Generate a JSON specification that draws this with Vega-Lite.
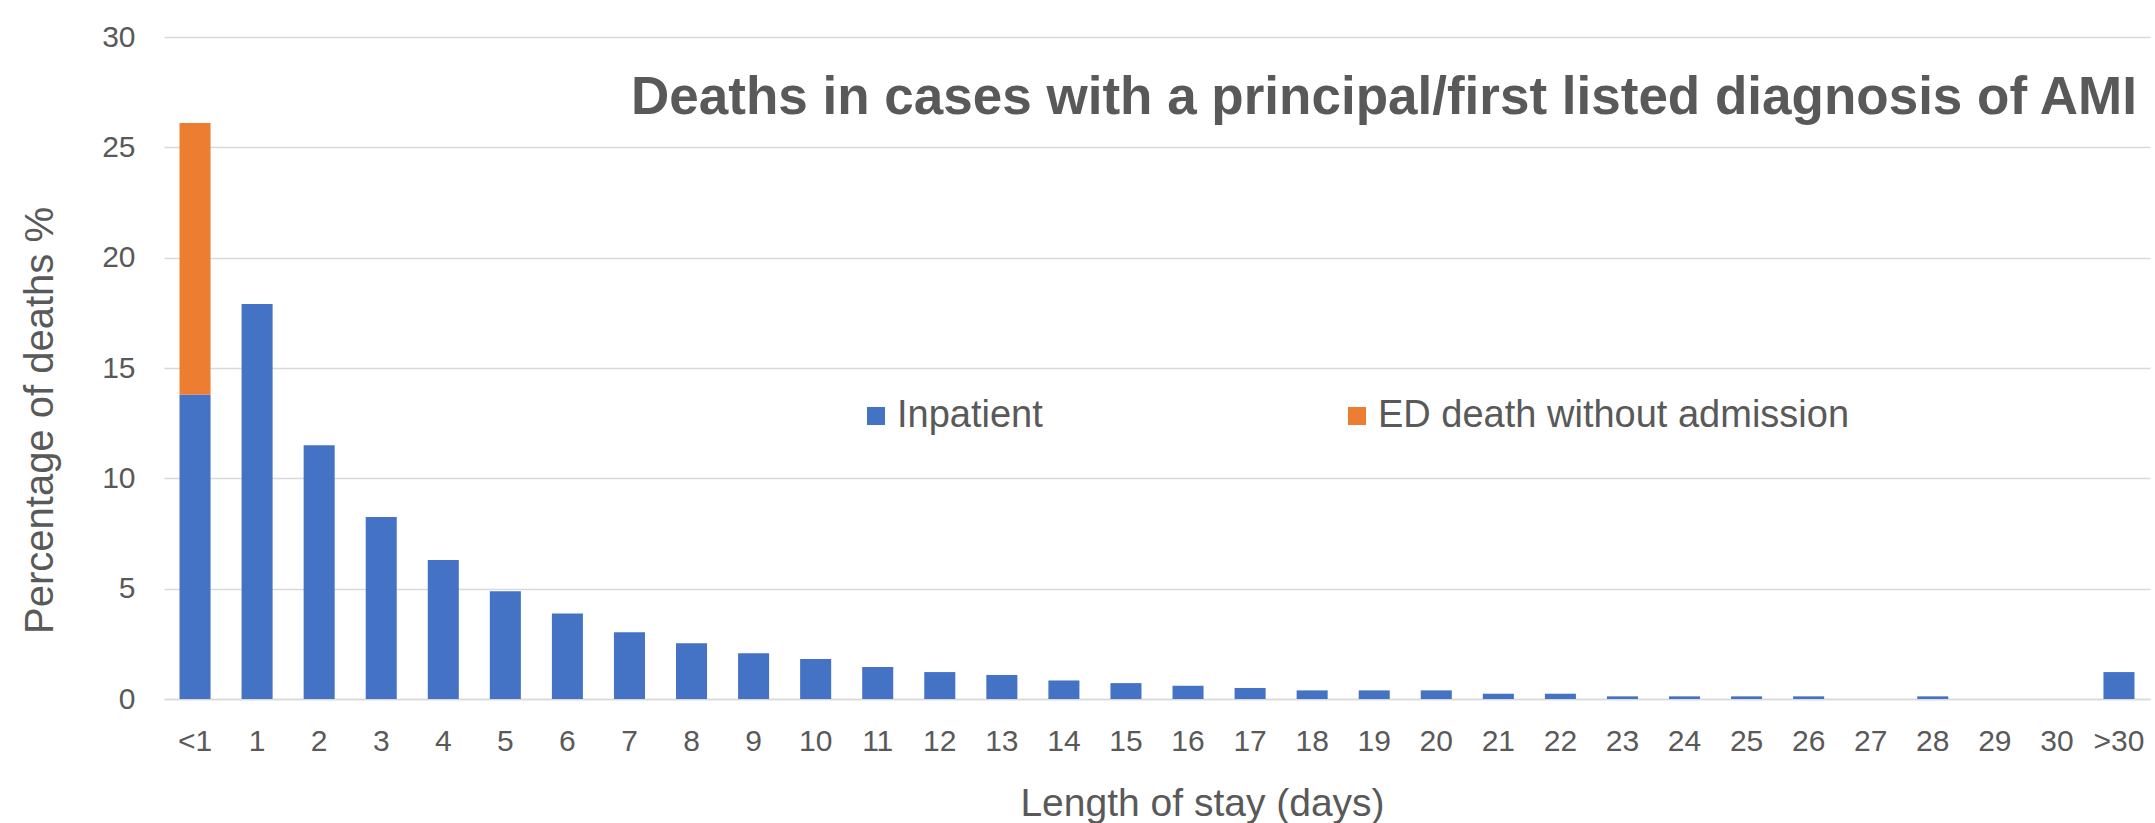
{
  "$schema": "https://vega.github.io/schema/vega-lite/v6.json",
  "width": 1986,
  "height": 662,
  "autosize": {"type": "none"},
  "padding": {"left": 164, "top": 37, "right": 5, "bottom": 124},
  "background": "white",
  "title": {
    "text": "Deaths in cases with a principal/first listed diagnosis of AMI",
    "anchor": "end",
    "frame": "group",
    "orient": "top",
    "baseline": "alphabetic",
    "offset": -145,
    "dx": -13,
    "font": "Liberation Sans",
    "fontSize": 53,
    "fontWeight": "bold",
    "color": "#595959"
  },
  "data": {
    "values": [
      {"los": "<1", "series": "Inpatient", "k": 1, "pct": 13.8},
      {"los": "<1", "series": "ED death without admission", "k": 2, "pct": 12.3},
      {"los": "1", "series": "Inpatient", "k": 1, "pct": 17.9},
      {"los": "2", "series": "Inpatient", "k": 1, "pct": 11.5},
      {"los": "3", "series": "Inpatient", "k": 1, "pct": 8.25},
      {"los": "4", "series": "Inpatient", "k": 1, "pct": 6.3},
      {"los": "5", "series": "Inpatient", "k": 1, "pct": 4.88},
      {"los": "6", "series": "Inpatient", "k": 1, "pct": 3.88},
      {"los": "7", "series": "Inpatient", "k": 1, "pct": 3.03},
      {"los": "8", "series": "Inpatient", "k": 1, "pct": 2.53},
      {"los": "9", "series": "Inpatient", "k": 1, "pct": 2.07},
      {"los": "10", "series": "Inpatient", "k": 1, "pct": 1.81},
      {"los": "11", "series": "Inpatient", "k": 1, "pct": 1.45},
      {"los": "12", "series": "Inpatient", "k": 1, "pct": 1.22},
      {"los": "13", "series": "Inpatient", "k": 1, "pct": 1.09},
      {"los": "14", "series": "Inpatient", "k": 1, "pct": 0.84},
      {"los": "15", "series": "Inpatient", "k": 1, "pct": 0.72},
      {"los": "16", "series": "Inpatient", "k": 1, "pct": 0.6},
      {"los": "17", "series": "Inpatient", "k": 1, "pct": 0.5},
      {"los": "18", "series": "Inpatient", "k": 1, "pct": 0.39},
      {"los": "19", "series": "Inpatient", "k": 1, "pct": 0.39},
      {"los": "20", "series": "Inpatient", "k": 1, "pct": 0.39},
      {"los": "21", "series": "Inpatient", "k": 1, "pct": 0.24},
      {"los": "22", "series": "Inpatient", "k": 1, "pct": 0.24},
      {"los": "23", "series": "Inpatient", "k": 1, "pct": 0.12},
      {"los": "24", "series": "Inpatient", "k": 1, "pct": 0.12},
      {"los": "25", "series": "Inpatient", "k": 1, "pct": 0.12},
      {"los": "26", "series": "Inpatient", "k": 1, "pct": 0.12},
      {"los": "27", "series": "Inpatient", "k": 1, "pct": 0},
      {"los": "28", "series": "Inpatient", "k": 1, "pct": 0.12},
      {"los": "29", "series": "Inpatient", "k": 1, "pct": 0},
      {"los": "30", "series": "Inpatient", "k": 1, "pct": 0},
      {"los": ">30", "series": "Inpatient", "k": 1, "pct": 1.22}
    ]
  },
  "mark": {"type": "bar"},
  "encoding": {
    "x": {
      "field": "los",
      "type": "nominal",
      "sort": null,
      "scale": {"paddingInner": 0.5, "paddingOuter": 0.25},
      "axis": {
        "title": "Length of stay (days)",
        "labelAngle": 0,
        "ticks": false,
        "tickSize": 0,
        "labelPadding": 27,
        "labelFont": "Liberation Sans",
        "labelFontSize": 30,
        "labelColor": "#595959",
        "domainColor": "#D9D9D9",
        "domainWidth": 1.5,
        "titleFont": "Liberation Sans",
        "titleFontSize": 39,
        "titleFontWeight": "normal",
        "titleColor": "#595959",
        "titleBaseline": "alphabetic",
        "titleX": 1038,
        "titleY": 116
      }
    },
    "y": {
      "field": "pct",
      "type": "quantitative",
      "stack": "zero",
      "scale": {"domain": [0, 30], "nice": false},
      "axis": {
        "title": "Percentage of deaths %",
        "values": [0, 5, 10, 15, 20, 25, 30],
        "domain": false,
        "ticks": false,
        "tickSize": 0,
        "labelPadding": 29,
        "labelFont": "Liberation Sans",
        "labelFontSize": 30,
        "labelColor": "#595959",
        "gridColor": "#D9D9D9",
        "gridWidth": 1.5,
        "titleFont": "Liberation Sans",
        "titleFontSize": 40,
        "titleFontWeight": "normal",
        "titleColor": "#595959",
        "titleBaseline": "alphabetic",
        "titleAlign": "center",
        "titleX": -112,
        "titleY": 383
      }
    },
    "color": {
      "field": "series",
      "type": "nominal",
      "scale": {
        "domain": ["Inpatient", "ED death without admission"],
        "range": ["#4472C4", "#ED7D31"]
      },
      "legend": {
        "title": null,
        "orient": "none",
        "direction": "horizontal",
        "legendX": 693,
        "legendY": 360,
        "padding": 0,
        "symbolType": "square",
        "symbolSize": 324,
        "symbolStrokeWidth": 0,
        "labelFont": "Liberation Sans",
        "labelFontSize": 38,
        "labelColor": "#595959",
        "labelLimit": 1000,
        "labelOffset": 2,
        "columnPadding": 295
      }
    },
    "order": {"field": "k", "type": "quantitative"}
  },
  "config": {
    "view": {"stroke": null}
  }
}
